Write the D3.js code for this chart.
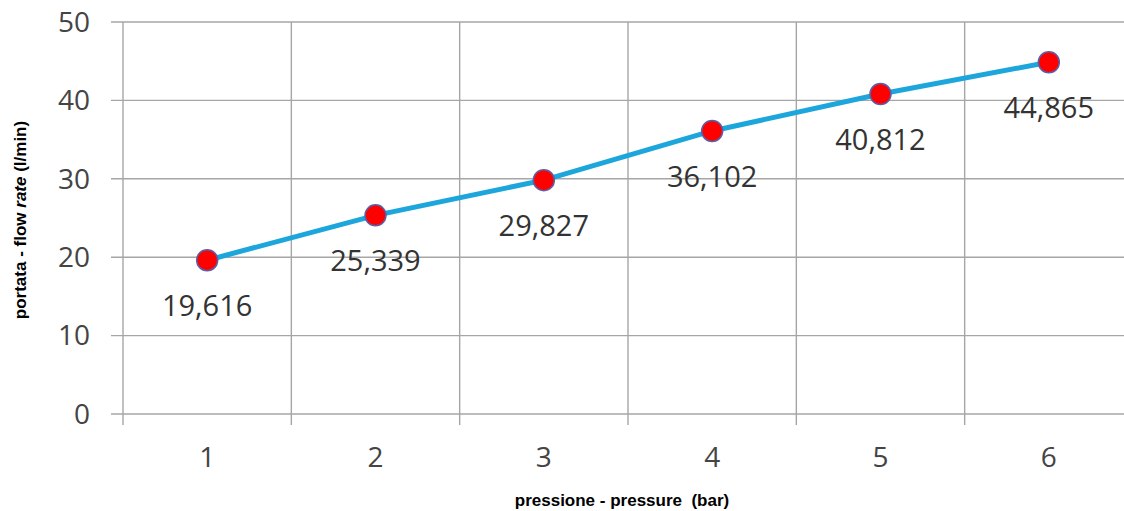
<!DOCTYPE html>
<html><head><meta charset="utf-8">
<script src="https://cdn.jsdelivr.net/npm/d3@7"></script>
<style>body{margin:0;background:#fff;}svg{display:block;}</style>
</head><body>
<script>
const categories = ["1","2","3","4","5","6"];
const flowRates = [19.616, 25.339, 29.827, 36.102, 40.812, 44.865];
const yTicks = [0,10,20,30,40,50];

const W = 1124, H = 511;
const svg = d3.select("body").append("svg").attr("width", W).attr("height", H);

const x = d3.scaleBand().domain(categories).range([123, 1133]);
const y = d3.scaleLinear().domain([0,50]).range([414, 22]);
const fmt = d3.formatLocale({decimal: ",", thousands: ".", grouping: [3], currency: ["", ""]}).format(".3f");

const grid = svg.append("g").attr("stroke", "#a6a6a6").attr("stroke-width", 1.4);
grid.selectAll("line.h").data(yTicks).join("line")
  .attr("x1", 111).attr("x2", W).attr("y1", d => y(d)).attr("y2", d => y(d));
const edges = categories.map(c => x(c));
grid.selectAll("line.v").data(edges).join("line")
  .attr("x1", d => d).attr("x2", d => d).attr("y1", y(50)).attr("y2", 425);

const tickFont = "'Open Sans', sans-serif";
svg.append("g").selectAll("text").data(yTicks).join("text")
  .attr("x", 90).attr("y", d => y(d)).attr("dy", "0.35em")
  .attr("text-anchor", "end").attr("font-family", tickFont).attr("font-size", 28)
  .attr("fill", "#444").text(d => d);

svg.append("g").selectAll("text").data(categories).join("text")
  .attr("x", d => x(d) + x.bandwidth()/2).attr("y", 457).attr("dy", "0.35em")
  .attr("text-anchor", "middle").attr("font-family", tickFont).attr("font-size", 28)
  .attr("fill", "#444").text(d => d);

const line = d3.line().x((d,i) => x(categories[i]) + x.bandwidth()/2).y(d => y(d));
svg.append("path").datum(flowRates).attr("d", line)
  .attr("fill", "none").attr("stroke", "#1ca6dc").attr("stroke-width", 5);

svg.append("g").selectAll("circle").data(flowRates).join("circle")
  .attr("cx", (d,i) => x(categories[i]) + x.bandwidth()/2).attr("cy", d => y(d))
  .attr("r", 10.5).attr("fill", "#ff0000").attr("stroke", "#5b5fa8").attr("stroke-width", 1.5);

svg.append("g").selectAll("text").data(flowRates).join("text")
  .attr("x", (d,i) => x(categories[i]) + x.bandwidth()/2).attr("y", d => y(d) + 46).attr("dy", "0.35em")
  .attr("text-anchor", "middle").attr("font-family", tickFont).attr("font-size", 29)
  .attr("fill", "#333").text(d => fmt(d));

const yt = svg.append("text").attr("transform", "translate(26,220) rotate(-90)")
  .attr("text-anchor", "middle").attr("font-family", "Arial, 'Liberation Sans', sans-serif")
  .attr("font-size", 17).attr("font-weight", "bold").attr("fill", "#000");
yt.append("tspan").text("portata - flow ");
yt.append("tspan").attr("font-style", "italic").text("rate");
yt.append("tspan").text(" (l/min)");

svg.append("text").attr("x", 622).attr("y", 506)
  .attr("text-anchor", "middle").attr("font-family", "Arial, 'Liberation Sans', sans-serif")
  .attr("font-size", 17).attr("font-weight", "bold").attr("fill", "#000")
  .style("white-space", "pre")
  .text("pressione - pressure  (bar)");
</script>
</body></html>
